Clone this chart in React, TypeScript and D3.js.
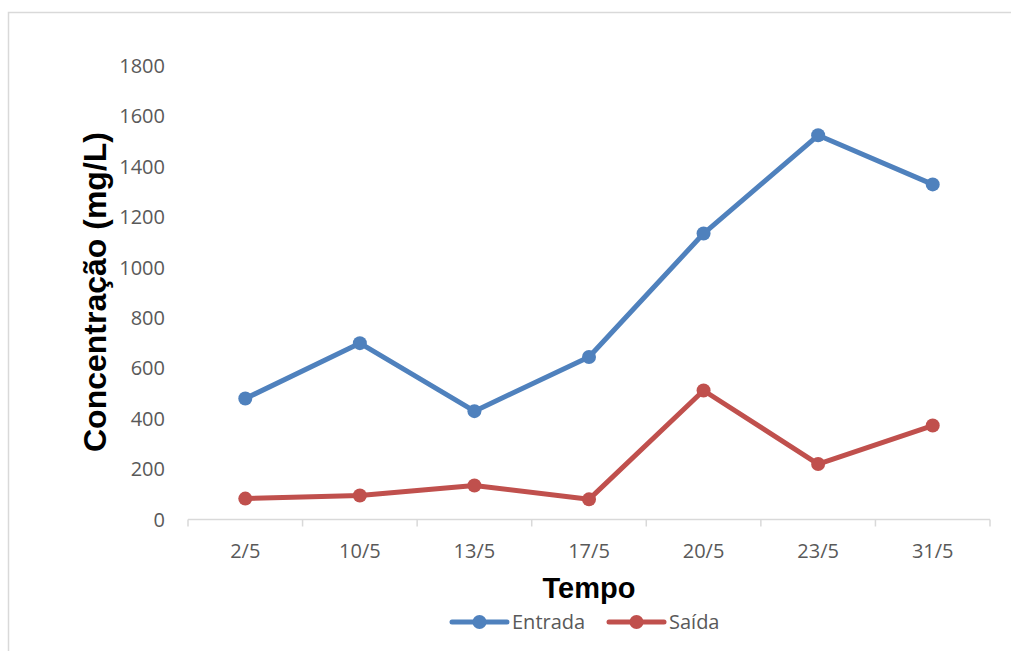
import React from "react";
import * as d3 from "d3";

const categories = ["2/5", "10/5", "13/5", "17/5", "20/5", "23/5", "31/5"];
const entrada = [480, 700, 430, 645, 1135, 1525, 1330];
const saida = [83, 95, 135, 80, 512, 220, 373];
const yTicks = [0, 200, 400, 600, 800, 1000, 1200, 1400, 1600, 1800];
const seriesNames = ["Entrada", "Saída"];
const seriesColors = ["#4F81BD", "#C0504D"];

const W = 1011;
const H = 651;
const left = 188;
const right = 990;
const top = 66;
const bottom = 519.5;

export default function App() {
  const x = d3.scaleBand<string>().domain(categories).range([left, right]).padding(0);
  const y = d3.scaleLinear().domain([0, 1800]).range([bottom, top]);
  const line = d3
    .line<number>()
    .x((_, i) => (x(categories[i]) as number) + x.bandwidth() / 2)
    .y((d) => y(d));
  const series = [entrada, saida];
  const tickFont = "'Open Sans', 'Noto Sans', sans-serif";
  const edges = categories.map((c) => x(c) as number).concat([right]);

  const legendItems = [
    { x0: 452, name: seriesNames[0], color: seriesColors[0] },
    { x0: 609, name: seriesNames[1], color: seriesColors[1] },
  ];

  return (
    <div style={{ position: "fixed", left: 0, top: 0 }}>
      <svg width={W} height={H} style={{ display: "block", background: "#fff" }}>
        <rect x={8.5} y={12.5} width={W + 20} height={H + 20} fill="#fff" stroke="#D9D9D9" strokeWidth={1.5} />
        {yTicks.map((t) => (
          <text
            key={t}
            x={165}
            y={y(t) + 7}
            textAnchor="end"
            fontFamily={tickFont}
            fontSize={20}
            fill="#595959"
          >
            {t}
          </text>
        ))}
        <line x1={left} x2={right} y1={bottom} y2={bottom} stroke="#D9D9D9" strokeWidth={1.5} />
        {edges.map((e, i) => (
          <line key={i} x1={e} x2={e} y1={bottom} y2={bottom + 7} stroke="#D9D9D9" strokeWidth={1.5} />
        ))}
        {categories.map((c) => (
          <text
            key={c}
            x={(x(c) as number) + x.bandwidth() / 2}
            y={558}
            textAnchor="middle"
            fontFamily={tickFont}
            fontSize={20}
            fill="#595959"
          >
            {c}
          </text>
        ))}
        {series.map((s, si) => (
          <g key={si}>
            <path
              d={line(s) || ""}
              fill="none"
              stroke={seriesColors[si]}
              strokeWidth={5}
              strokeLinejoin="round"
              strokeLinecap="round"
            />
            {s.map((v, i) => (
              <circle
                key={i}
                cx={(x(categories[i]) as number) + x.bandwidth() / 2}
                cy={y(v)}
                r={7}
                fill={seriesColors[si]}
              />
            ))}
          </g>
        ))}
        <text
          transform={`translate(106,292) rotate(-90)`}
          textAnchor="middle"
          fontFamily="'Liberation Sans', Arial, sans-serif"
          fontWeight="bold"
          fontSize={32}
          fill="#000"
        >
          Concentração (mg/L)
        </text>
        <text
          x={589}
          y={598}
          textAnchor="middle"
          fontFamily="'Liberation Sans', Arial, sans-serif"
          fontWeight="bold"
          fontSize={29}
          fill="#000"
        >
          Tempo
        </text>
        {legendItems.map((it) => (
          <g key={it.name}>
            <line x1={it.x0} x2={it.x0 + 55} y1={622} y2={622} stroke={it.color} strokeWidth={5} strokeLinecap="round" />
            <circle cx={it.x0 + 27.5} cy={622} r={7} fill={it.color} />
            <text x={it.x0 + 60} y={629} fontFamily={tickFont} fontSize={20} fill="#595959">
              {it.name}
            </text>
          </g>
        ))}
      </svg>
    </div>
  );
}
